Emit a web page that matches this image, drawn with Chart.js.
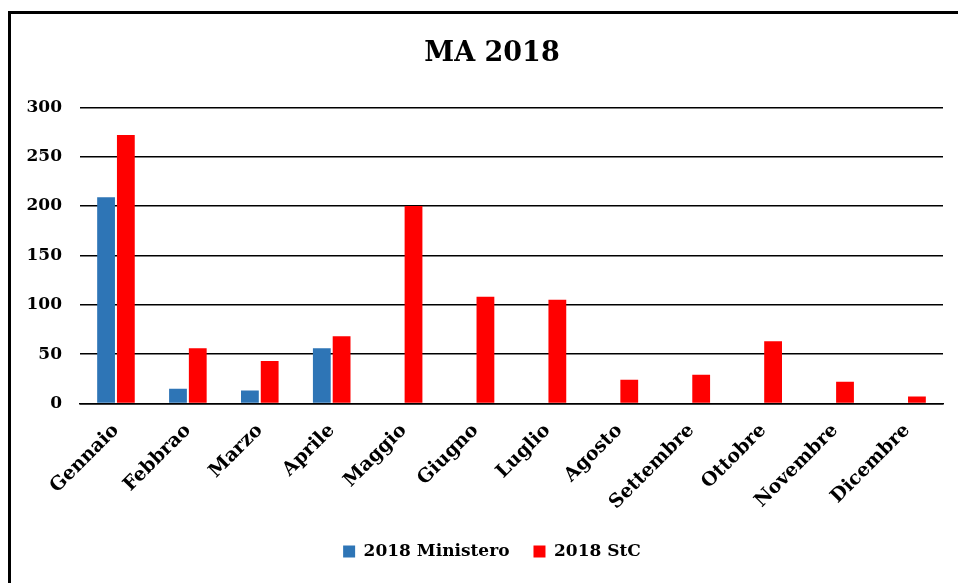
<!DOCTYPE html>
<html>
<head>
<meta charset="utf-8">
<script src="https://cdn.jsdelivr.net/npm/chart.js@4/dist/chart.umd.min.js"></script>
<style>
  html, body { margin: 0; padding: 0; background: #fff; overflow: hidden; }
  #frame {
    position: absolute; left: 8px; top: 11px; width: 1000px; height: 700px;
    border-left: 3px solid #000; border-top: 3px solid #000;
  }
  #wrap { position: absolute; left: 0; top: 0; width: 958px; height: 583px; }
</style>
</head>
<body>
<div id="frame"></div>
<div id="wrap"><canvas id="myChart"></canvas></div>
<script>
const months = ["Gennaio", "Febbrao", "Marzo", "Aprile", "Maggio", "Giugno",
  "Luglio", "Agosto", "Settembre", "Ottobre", "Novembre", "Dicembre"];
const ministero = [209, 15, 13, 56, null, null, null, null, null, null, null, null];
const stc = [272, 56, 43, 68, 200, 108, 105, 24, 29, 63, 22, 7];
const yTicks = [0, 50, 100, 150, 200, 250, 300];

const FONT = "'DejaVu Serif', serif";

// let the y labels draw left of the (narrow) y axis box
const widenYLabels = {
  id: "widenYLabels",
  afterLayout: (chart) => {
    chart.scales.y.left = 0;
  },
};

const ctx = document.getElementById("myChart");
new Chart(ctx, {
  type: "bar",
  data: {
    labels: months,
    datasets: [
      { label: "2018 Ministero", data: ministero, backgroundColor: "#2e75b6" },
      { label: "2018 StC", data: stc, backgroundColor: "#ff0000" },
    ],
  },
  plugins: [widenYLabels],
  options: {
    responsive: true,
    maintainAspectRatio: false,
    animation: false,
    datasets: { bar: { categoryPercentage: 0.55, barPercentage: 0.9 } },
    layout: { padding: { left: 41, right: 15, top: 0, bottom: 13 } },
    plugins: {
      title: {
        display: true,
        text: "MA 2018",
        color: "#000",
        font: { family: FONT, size: 27, weight: "bold" },
        padding: { top: 38, bottom: 37 },
      },
      legend: {
        position: "bottom",
        labels: {
          color: "#000",
          font: { family: FONT, size: 17, weight: "bold" },
          boxWidth: 12,
          boxHeight: 12,
          padding: 24,
        },
      },
      tooltip: { enabled: false },
    },
    scales: {
      x: {
        grid: { display: false, drawTicks: false },
        border: { display: true, color: "#000", width: 1.5 },
        ticks: {
          color: "#000",
          font: { family: FONT, size: 19, weight: "bold" },
          minRotation: 45,
          maxRotation: 45,
          padding: 16,
        },
        afterFit: (axis) => {
          axis.paddingLeft = 0;
          axis.height -= 11;
        },
      },
      y: {
        min: 0,
        max: 300,
        afterBuildTicks: (axis) => {
          axis.ticks = yTicks.map((v) => ({ value: v }));
        },
        afterFit: (axis) => {
          axis.width = 39;
        },
        grid: { color: "#000", lineWidth: 1.5, drawTicks: false },
        border: { display: false },
        ticks: {
          color: "#000",
          font: { family: FONT, size: 17, weight: "bold" },
          padding: 18,
        },
      },
    },
  },
});
</script>
</body>
</html>
